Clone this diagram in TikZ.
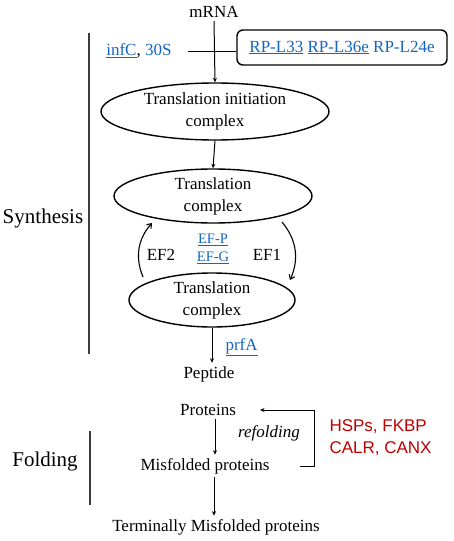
\documentclass[tikz,border=0pt]{standalone}
\usepackage{fontspec}
\setmainfont{Liberation Serif}
\newfontfamily\redsans{Liberation Sans}
\usetikzlibrary{arrows.meta,shapes.geometric}
\definecolor{geneblue}{RGB}{21, 101, 192}
\definecolor{chapred}{RGB}{192, 0, 0}
\definecolor{sidegray}{RGB}{60, 60, 60}
\newcommand{\gene}[1]{\textcolor{geneblue}{\underline{#1}}}

\begin{document}
\begin{tikzpicture}[x=1pt, y=-1pt,
    every node/.style={font=\fontsize{17}{22}\selectfont, align=center},
    cplx/.style={ellipse, draw, line width=1.4pt, inner sep=0pt},
    flow/.style={-{Stealth[length=4.5pt,width=4pt]}, line width=1pt},
    loop/.style={-{Straight Barb[length=4pt,width=6pt]}, line width=1.1pt, bend left=32},
    side/.style={font=\fontsize{21}{25}\selectfont}]
    \useasboundingbox (0,0) rectangle (454,541);

    % Initiation - Top
    \node (mrna) at (214,12) {mRNA};
    \node[anchor=east] (inf) at (175,51) {\gene{infC}, \textcolor{geneblue}{30S}};
    \node[draw, line width=1.4pt, rounded corners=6pt, minimum width=210pt, minimum height=35pt] (rpbox) at (342,47.5) {\gene{RP-L33} \gene{RP-L36e} \textcolor{geneblue}{RP-L24e}};
    \draw[line width=1pt] ([xshift=13pt]inf.east) -- (inf.east -| rpbox.west);
    \node[cplx, minimum width=228pt, minimum height=57pt] (init) at (215,111.5) {Translation initiation\\complex};
    \draw[flow] (mrna.south) -- (init.north);

    % Elongation - Middle
    \node[cplx, minimum width=198pt, minimum height=54pt] (elo1) at (213,196) {Translation\\complex};
    \node[cplx, minimum width=166pt, minimum height=54pt] (elo2) at (212,300) {Translation\\complex};
    \draw[flow] (init.south) -- (elo1.north);
    \coordinate (l1) at (143,277);
    \coordinate (l2) at (152,223);
    \coordinate (r1) at (282,222);
    \coordinate (r2) at (290,280);
    \draw[loop] (l1) to (l2);
    \draw[loop] (r1) to (r2);
    \node (ef2) at (161,255) {EF2};
    \node (ef1) at (267,255) {EF1};
    \node[font=\fontsize{14.5}{18}\selectfont] (efpg) at (213,249) {\gene{EF-P}\\\gene{EF-G}};

    % Termination
    \node (pep) at (209,374) {Peptide};
    \draw[flow] (elo2.south) -- (elo2.south |- pep.north);
    \node[anchor=west] (prfa) at (222,347) {\gene{prfA}};

    % Folding - Bottom
    \node (prot) at (208,410) {Proteins};
    \node (misf) at (205,466) {Misfolded proteins};
    \node (term) at (216,527) {Terminally Misfolded proteins};
    \draw[flow] (prot.south -| 215,0) -- (misf.north -| 215,0);
    \draw[flow] (misf.south -| 214,0) -- (term.north -| 214,0);
    \node[font=\fontsize{17}{22}\selectfont\itshape] (refold) at (269,433) {refolding};
    \coordinate (fbstart) at (300,466);
    \coordinate (fbtip) at (260,410);
    \draw[flow] (fbstart) -- (314,466) |- (fbtip);
    \node[anchor=west, align=left, font=\fontsize{17}{22}\redsans, text=chapred] (chap) at (326,438) {HSPs, FKBP\\CALR, CANX};

    % Stage labels - Left
    \node[side] (synth) at (43,218) {Synthesis};
    \draw[line width=1.6pt, sidegray] (89,33) -- (89,354);
    \node[side] (fold) at (45,461) {Folding};
    \draw[line width=1.6pt, sidegray] (90,431) -- (90,505);
\end{tikzpicture}
\end{document}
